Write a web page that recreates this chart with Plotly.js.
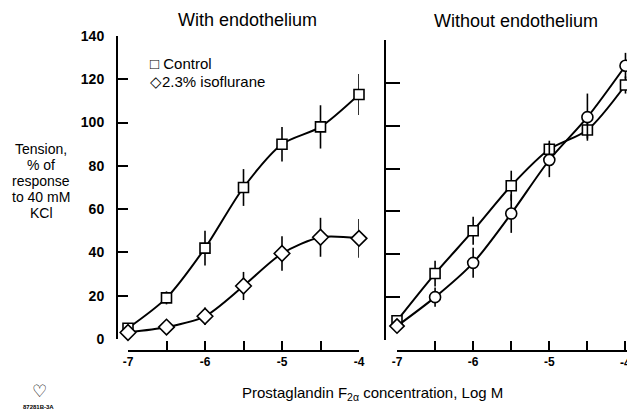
<!DOCTYPE html>
<html><head><meta charset="utf-8">
<script src="https://cdn.plot.ly/plotly-3.0.1.min.js"></script>
<style>
html,body{margin:0;padding:0;background:#fff}
</style>
</head><body><div id="chart" style="width:627px;height:413px"></div>
<script>
const logConc = [-7, -6.5, -6, -5.5, -5, -4.5, -4];
const withControl = [5, 19, 42, 70, 90, 98, 113];
const withControlErr = [1.5, 3, 8, 8.5, 8, 10, 9.5];
const withIso = [3, 5.5, 10.5, 24.5, 39.5, 47, 46.5];
const withIsoErr = [1, 1.5, 4, 6.5, 8, 9, 9];
const withoutControl = [9, 31, 51, 72, 89, 98, 119];
const withoutControlErr = [1.5, 6, 6.5, 7, 4, 4, 4];
const withoutIso = [6.5, 20, 36, 59, 84, 104, 128];
const withoutIsoErr = [1.5, 4.5, 7, 9, 8, 11, 6];
const yTickVals = [0, 20, 40, 60, 80, 100, 120, 140];
const xMajorVals = [-7, -6, -5, -4];
const xMajorText = ['-7', '-6', '-5', '-4'];
const xRightMajorVals = [-7, -6, -5];
const xRightMajorText = ['-7', '-6', '-5'];
const xMinorVals = [-6.5, -5.5, -4.5, -4];
const yLabelLines = ['Tension,', '% of', 'response', 'to 40 mM', 'KCl'];

const W = 627, H = 413;
const px = x => x / W;
const py = y => 1 - y / H;
const FONT = 'Liberation Sans, Arial, sans-serif';
const NARROW = 'Liberation Sans Narrow, Liberation Sans, Arial, sans-serif';

function trace(x, y, err, symbol, xa, ya, size) {
  return {
    x: x, y: y, xaxis: xa, yaxis: ya, type: 'scatter', mode: 'lines+markers',
    cliponaxis: false,
    line: {color: '#000', width: 2, shape: 'spline', smoothing: 0.8},
    marker: {symbol: symbol, size: size, color: '#fff', line: {color: '#000', width: 1.6}},
    error_y: {type: 'data', array: err, visible: true, color: '#000', thickness: 1.6, width: 0},
    showlegend: false, hoverinfo: 'skip'
  };
}

const rightIsoSymbols = ['diamond', 'circle', 'circle', 'circle', 'circle', 'circle', 'circle'];

const data = [
  trace(logConc, withControl, withControlErr, 'square', 'x', 'y', 10),
  trace(logConc, withIso, withIsoErr, 'diamond', 'x', 'y', 12),
  trace(logConc, withoutControl, withoutControlErr, 'square', 'x2', 'y2', 10),
  trace(logConc, withoutIso, withoutIsoErr, rightIsoSymbols, 'x2', 'y2', 11)
];

const axisCommon = {
  showgrid: false, zeroline: false, showline: true, linecolor: '#000', linewidth: 2,
  ticks: 'inside', tickcolor: '#000', tickwidth: 2,
  tickfont: {family: FONT, size: 12, color: '#000', weight: 'bold'}
};
const minorX = {tickvals: xMinorVals, ticks: 'inside', ticklen: 9, tickwidth: 2, tickcolor: '#000', showgrid: false};

function ann(text, x, y, size, opts) {
  return Object.assign({text: text, x: px(x), y: py(y), xref: 'paper', yref: 'paper',
    showarrow: false, xanchor: 'center', yanchor: 'middle',
    font: {family: FONT, size: size, color: '#000'}}, opts || {});
}

const annotations = [
  ann('With endothelium', 247, 20, 18),
  ann('Without endothelium', 516, 21, 18),
  ann('□ Control', 148, 63, 15, {xanchor: 'left'}),
  ann('◇2.3% isoflurane', 148, 81, 15, {xanchor: 'left'}),
  ann('Prostaglandin F<sub>2α</sub> concentration, Log M', 372, 393, 15),
  ann('87281B-3A', 38, 407, 6, {font: {family: FONT, size: 6, color: '#000', weight: 'bold'}}),
  ann('♡', 39, 391, 17, {font: {family: 'DejaVu Sans', size: 17, color: '#000', weight: 'bold'}}),
  {text: '-4', x: -4, xref: 'x2', y: py(363), yref: 'paper', showarrow: false,
   xanchor: 'center', yanchor: 'middle', font: {family: FONT, size: 12, color: '#000', weight: 'bold'}}
];
const lineYs = [149, 165, 181, 197, 213];
yLabelLines.forEach((t, i) => annotations.push(ann(t, 41, lineYs[i], 14)));

const layout = {
  width: W, height: H,
  margin: {l: 0, r: 0, t: 0, b: 0},
  paper_bgcolor: '#fff', plot_bgcolor: 'rgba(0,0,0,0)',
  xaxis: Object.assign({}, axisCommon, {
    domain: [px(128), px(359)], range: [-7, -4], anchor: 'free', position: py(351),
    tickmode: 'array', tickvals: xMajorVals, ticktext: xMajorText, ticklen: 9, minor: minorX
  }),
  yaxis: Object.assign({}, axisCommon, {
    domain: [py(339), py(36)], range: [0, 140], anchor: 'free', position: px(117),
    tickmode: 'array', tickvals: yTickVals, ticklen: 10, ticklabelstandoff: 9,
    tickfont: {family: NARROW, size: 14, color: '#000', weight: 'bold'}
  }),
  xaxis2: Object.assign({}, axisCommon, {
    domain: [px(397), 1], range: [-7, -3.98], anchor: 'free', position: py(351),
    tickmode: 'array', tickvals: xRightMajorVals, ticktext: xRightMajorText, ticklen: 9, minor: minorX
  }),
  yaxis2: Object.assign({}, axisCommon, {
    domain: [py(340), py(40)], range: [0, 140], anchor: 'free', position: px(385),
    tickmode: 'array', tickvals: yTickVals, ticklen: 14, showticklabels: false
  }),
  annotations: annotations
};

Plotly.newPlot('chart', data, layout, {staticPlot: true, displayModeBar: false});
</script>
</body></html>
